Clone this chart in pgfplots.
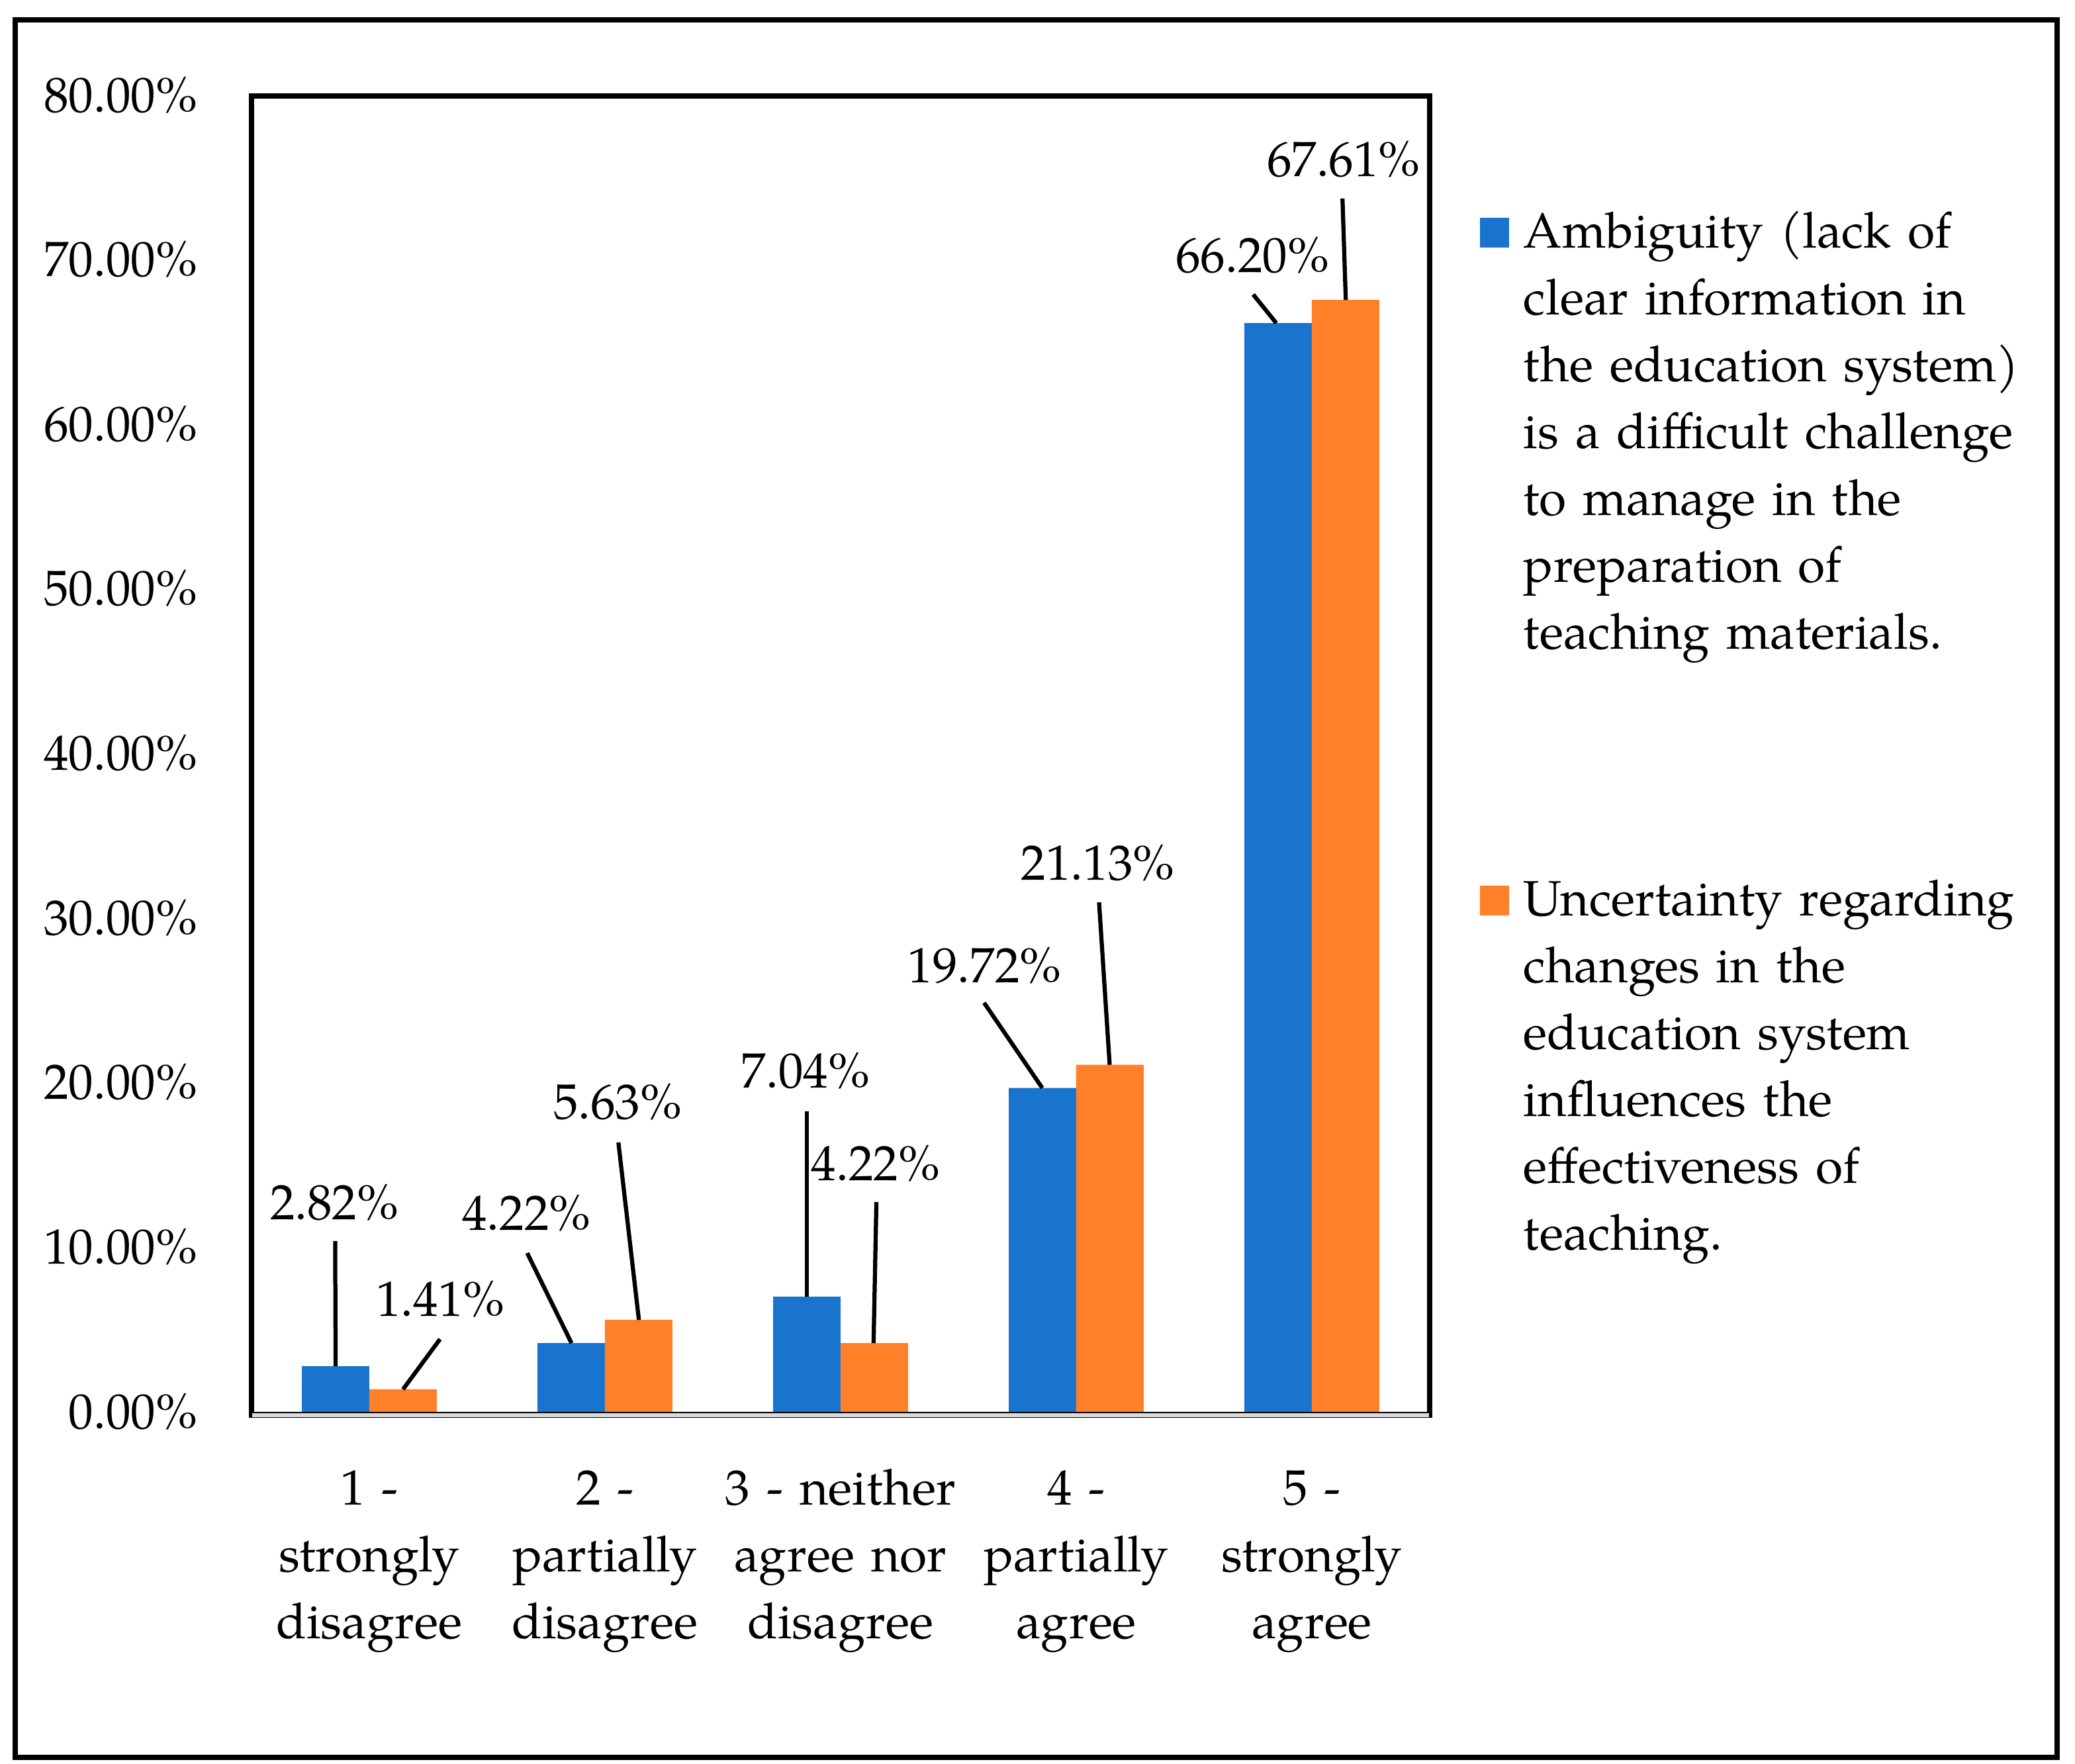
\documentclass[border=0pt]{standalone}
\usepackage{pgfplots}
\pgfplotsset{compat=1.18}
\usepackage{fontspec}
\setmainfont{TeX Gyre Pagella}[WordSpace=0.72]
\definecolor{barblue}{RGB}{24,116,205}
\definecolor{barorange}{RGB}{255,128,40}
\definecolor{axisgray}{RGB}{217,217,217}
\newcommand\ff{\fontsize{15bp}{20.2bp}\selectfont}
\begin{document}
\ff
\begin{tikzpicture}
\useasboundingbox (0,0) rectangle (627bp,533bp);
\draw[line width=1.6bp] (4.6bp,2bp) rectangle (621.6bp,526.9bp);
\begin{axis}[
  at={(76bp,106.2bp)}, anchor=south west,
  width=356bp, height=397.8bp, scale only axis,
  xmin=-0.5, xmax=4.5, ymin=0, ymax=80,
  axis line style={draw=none},
  clip=false,
  ytick={0,10,...,80},
  yticklabels={0.00\%,10.00\%,20.00\%,30.00\%,40.00\%,50.00\%,60.00\%,70.00\%,80.00\%},
  xtick={0,1,2,3,4},
  xticklabels={{1 -\\strongly\\disagree},{2 -\\partially\\disagree},{3 - neither\\agree nor\\disagree},{4 -\\partially\\agree},{5 -\\strongly\\agree}},
  major tick length=0pt,
  tick style={draw=none},
  yticklabel style={anchor=base east, inner sep=0pt, xshift=-16.2bp, yshift=-4.8bp, font=\ff},
  xticklabel style={anchor=base, inner sep=0pt, yshift=-27.9bp, text width=90bp, align=center, font=\ff},
  ybar=0pt, bar width=0.286,
  legend style={at={(1.0427,0.9204)}, anchor=north west, draw=none, fill=none,
    inner sep=0pt, outer sep=0pt, row sep=60.4bp, column sep=4.4bp, font=\ff,
    cells={anchor=base west},
    nodes={inner sep=0pt, text depth=, anchor=base west, text width=170bp, align=left, font=\ff}},
  legend image code/.code={\fill[#1] (0bp,0bp) rectangle (8.8bp,9bp);},
]
\addplot[fill=barblue, draw=none, bar shift=-0.143] coordinates {(0,2.82) (1,4.22) (2,7.04) (3,19.72) (4,66.20)};
\addlegendentry{\strut Ambiguity (lack of\\clear information in\\the education system)\\is a difficult challenge\\to manage in the\\preparation of\\teaching materials.\strut}
\addplot[fill=barorange, draw=none, bar shift=0.143] coordinates {(0,1.41) (1,5.63) (2,4.22) (3,21.13) (4,67.61)};
\addlegendentry{\strut Uncertainty regarding\\changes in the\\education system\\influences the\\effectiveness of\\teaching.\strut}

% plot area frame
\draw[line width=1.7bp] ([yshift=-1.5bp]axis cs:-0.5,0) -- (axis cs:-0.5,80) -- (axis cs:4.5,80) -- ([yshift=-1.5bp]axis cs:4.5,0);
\draw[line width=0.3bp, fill=axisgray] (axis cs:-0.5,0) rectangle ([yshift=-1.5bp]axis cs:4.5,0);

% leader lines
\begin{scope}[line width=1.25bp]
\draw (axis cs:-0.145,10.42) -- (axis cs:-0.143,2.82);
\draw (axis cs:0.300,4.46) -- (axis cs:0.143,1.41);
\draw (axis cs:0.670,9.69) -- (axis cs:0.858,4.22);
\draw (axis cs:1.057,16.41) -- (axis cs:1.144,5.63);
\draw (axis cs:1.856,18.32) -- (axis cs:1.856,7.04);
\draw (axis cs:2.152,12.79) -- (axis cs:2.140,4.22);
\draw (axis cs:2.609,24.9) -- (axis cs:2.856,19.72);
\draw (axis cs:3.097,31.0) -- (axis cs:3.142,21.13);
\draw (axis cs:3.751,67.94) -- (axis cs:3.849,66.20);
\draw (axis cs:4.13,73.77) -- (axis cs:4.144,67.61);
\end{scope}
% data labels
\begin{scope}[every node/.style={anchor=base, yshift=-5.2bp, inner sep=0pt, font=\ff}]
\node at (axis cs:-0.148,12.79) {2.82\%};
\node at (axis cs:0.302,6.88) {1.41\%};
\node at (axis cs:0.667,12.11) {4.22\%};
\node at (axis cs:1.054,18.9) {5.63\%};
\node at (axis cs:1.851,20.76) {7.04\%};
\node at (axis cs:2.149,15.16) {4.22\%};
\node at (axis cs:2.612,27.19) {19.72\%};
\node at (axis cs:3.092,33.39) {21.13\%};
\node at (axis cs:3.748,70.31) {66.20\%};
\node at (axis cs:4.135,76.18) {67.61\%};
\end{scope}
\end{axis}
\end{tikzpicture}
\end{document}
